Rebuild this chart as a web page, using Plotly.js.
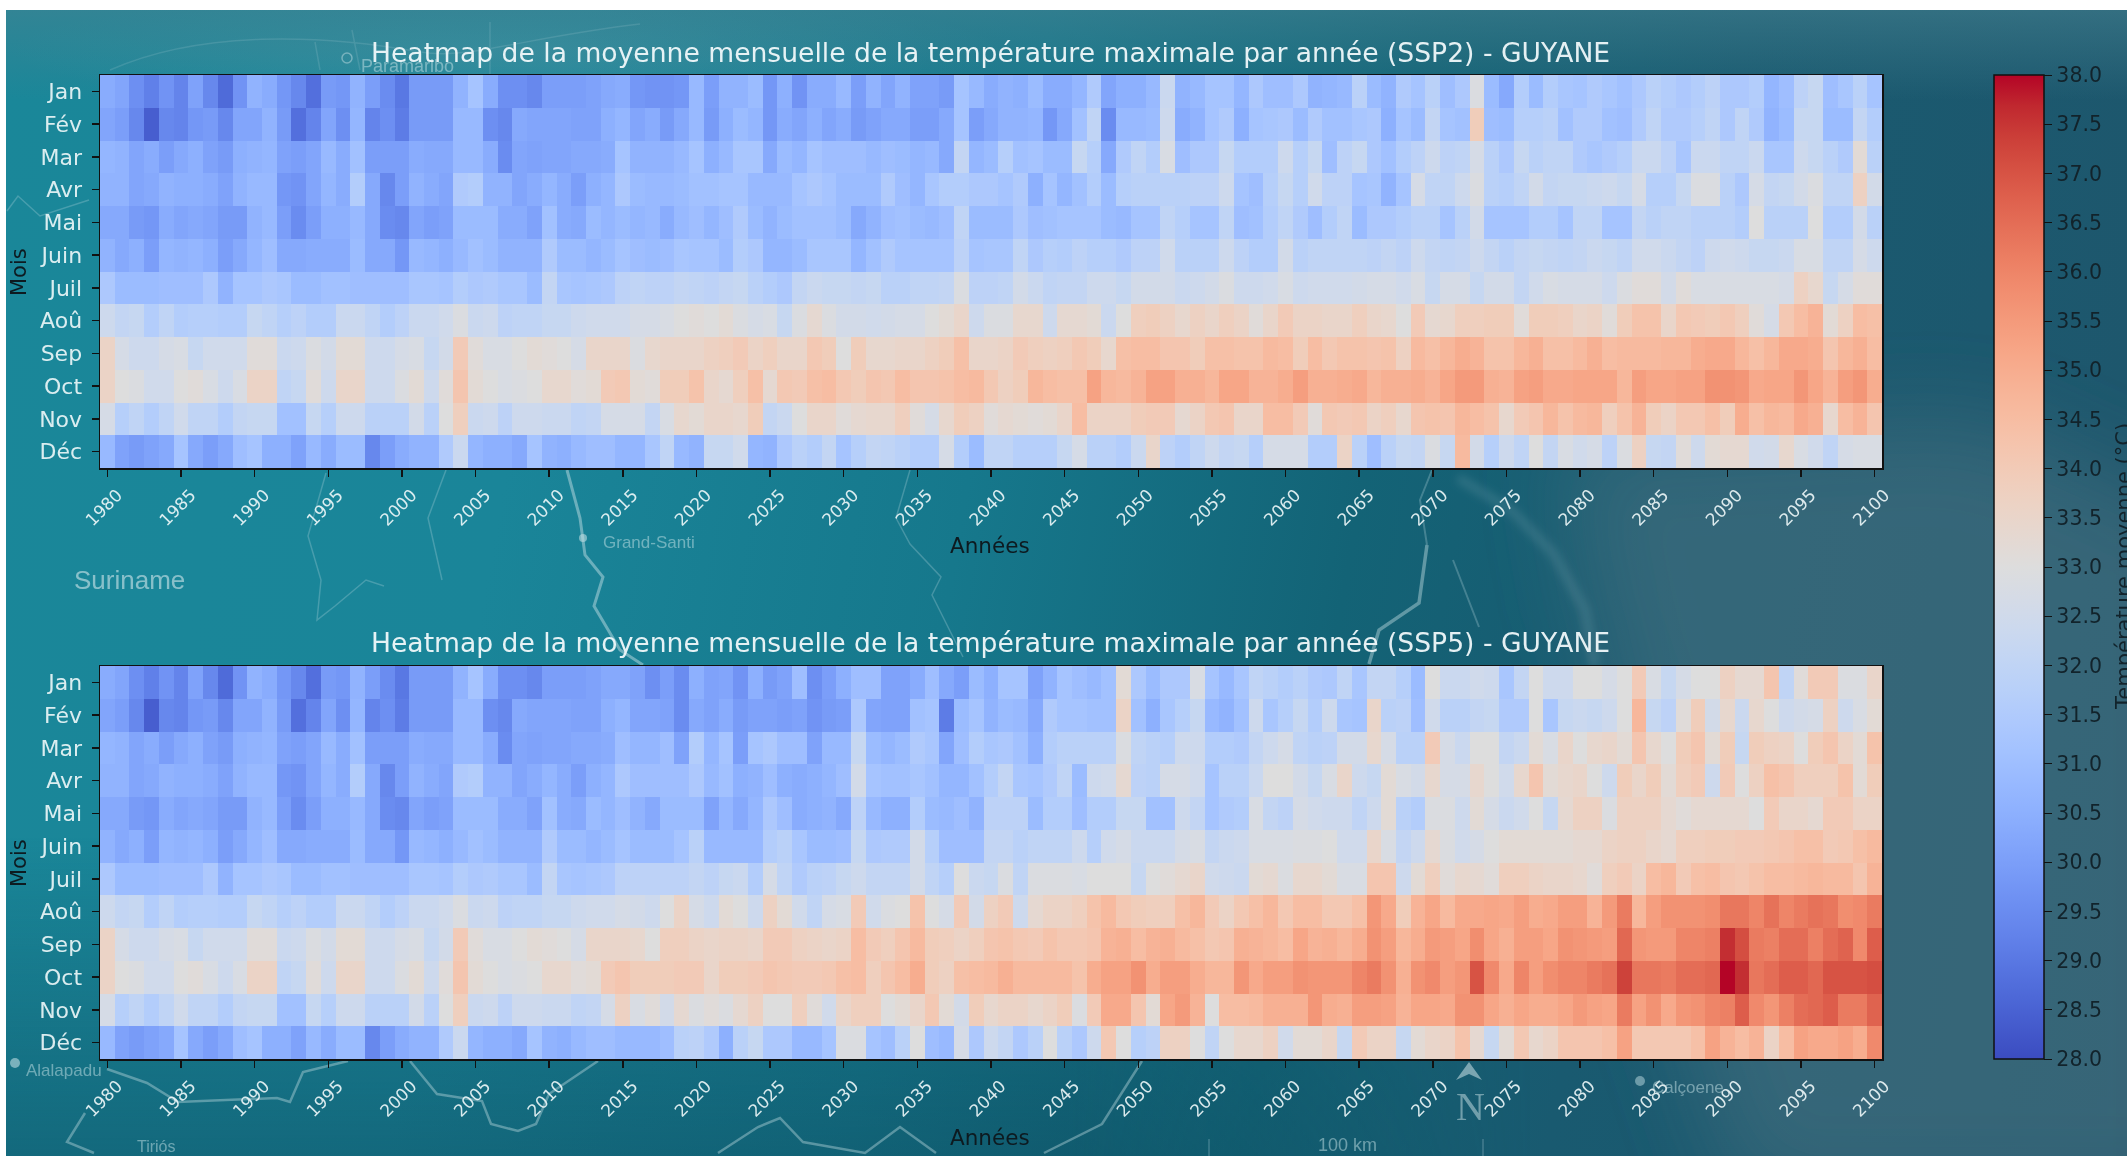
<!DOCTYPE html>
<html><head><meta charset="utf-8">
<script src="https://cdn.plot.ly/plotly-3.0.1.min.js"></script>
<style>
html,body{margin:0;padding:0;background:#fff;width:2127px;height:1156px;overflow:hidden}
#map{position:absolute;left:6px;top:10px;width:2121px;height:1146px;
background:
radial-gradient(ellipse 500px 60px at 500px 40px,rgba(150,190,195,.18),rgba(150,190,195,0) 100%),
linear-gradient(100deg,#1a8799 0%,#1a8599 25%,#16788c 45%,#136376 62%,#195a70 75%,#1f566c 100%);}
#mapTop{position:absolute;left:6px;top:10px;width:2121px;height:500px;background:linear-gradient(180deg,rgba(70,130,145,.55) 0%,rgba(70,130,145,0) 18%)}
#mapBot{position:absolute;left:6px;top:700px;width:2121px;height:456px;background:linear-gradient(0deg,rgba(12,70,90,.45) 0%,rgba(12,70,90,0) 70%);-webkit-mask-image:linear-gradient(90deg,#000 50%,transparent 72%);mask-image:linear-gradient(90deg,#000 50%,transparent 72%)}
#lines{position:absolute;left:6px;top:10px}
#plot{position:absolute;left:0;top:0;width:2127px;height:1156px;filter:blur(.45px)}
</style></head><body>
<div id="map"></div><div id="mapTop"></div><div id="mapBot"></div>
<svg id="lines" width="2121" height="1146" viewBox="6 10 2121 1146" fill="none" stroke="rgba(190,220,225,.28)" stroke-width="1.5">
<defs><filter id="soft" x="-30%" y="-30%" width="160%" height="160%"><feGaussianBlur stdDeviation="45"/></filter>
<filter id="soft2" x="-20%" y="-20%" width="140%" height="140%"><feGaussianBlur stdDeviation="4"/></filter></defs>
<path filter="url(#soft)" stroke="none" fill="rgba(82,118,132,.48)" d="M1560 440 L1590 610 L1610 667 L1640 900 L1740 1200 L2200 1200 L2200 520 L1980 420 Z"/>
<path filter="url(#soft2)" stroke="rgba(150,185,195,.2)" stroke-width="9" d="M1458 478 L1511 510 L1553 553 L1585 610 L1595 667"/>
<path stroke="rgba(190,220,225,.16)" d="M110 70 C200 30 320 34 420 52 C470 60 520 38 640 24 M320 70 L315 42 M360 70 L352 30 M490 74 L490 22"/>
<path stroke-width="3" stroke="rgba(190,220,225,.5)" d="M567 470 L580 518 L585 555 L603 577 L594 606 L620 650 L643 665"/>
<path d="M910 470 L896 518 L910 544 L941 577 L932 595 L963 657"/>
<path d="M7 211 L18 196 L40 216 L89 200"/>
<path d="M326 473 L308 536 L321 580 L317 620 L335 606 L366 580 L384 586 M446 470 L428 518 L442 580"/>
<path stroke-width="2.5" stroke="rgba(190,220,225,.42)" d="M107 1069 L147 1083 L178 1102 L277 1098 L290 1102 L303 1072 L348 1061 M410 1061 L437 1094 L482 1101 L491 1124 L518 1131 L536 1124 L549 1094 L598 1061 M85 1113 L67 1142 L94 1153 M718 1153 L758 1127 L780 1118 L803 1142 L865 1153 L900 1127 L936 1153 M1044 1153 L1102 1124 L1142 1061"/>
<path stroke-width="3.5" stroke="rgba(190,220,225,.45)" d="M1427 545 L1419 603 L1379 630 L1369 664"/>
<path stroke-width="2" d="M1427 545 L1420 500 L1432 470 M1453 560 L1479 627"/>
<path d="M1209 1139 L1209 1156 M1483 1139 L1483 1156"/>
<path fill="rgba(190,215,220,.6)" stroke="none" d="M1469 1062 L1482 1080 L1469 1074 L1456 1080 Z"/>
<circle cx="583" cy="538" r="4" fill="rgba(190,220,225,.6)" stroke="none"/>
<circle cx="15" cy="1063" r="5" fill="rgba(190,220,225,.6)" stroke="none"/>
<circle cx="1640" cy="1081" r="5" fill="rgba(190,220,225,.5)" stroke="none"/>
<circle cx="347" cy="58" r="5" stroke="rgba(190,220,225,.5)"/>
</svg>
<div id="plot"></div>
<script>
const months=['Jan','Fév','Mar','Avr','Mai','Juin','Juil','Aoû','Sep','Oct','Nov','Déc'];
const years=[];for(let y=1980;y<=2100;y++)years.push(y);

// Historical run, 1980-2014 (same in both scenarios)
const histJan=[30.4,30.2,29.6,29.2,29.7,29.3,30.1,29.4,28.7,29.7,30.6,30.4,29.8,29.4,28.8,29.9,29.8,30.6,30.0,29.5,29.0,29.9,29.9,29.9,30.6,31.2,30.4,29.6,29.6,29.4,30.0,30.0,30.0,30.1,30.3];
const histFev=[30.2,30.0,29.4,28.4,29.4,29.3,29.8,29.9,29.4,30.2,30.2,30.6,29.9,28.8,29.3,30.2,29.6,30.7,29.3,29.6,29.1,29.9,29.9,29.9,30.8,30.8,29.6,29.4,30.3,30.2,30.2,30.2,30.1,30.1,30.5];
const histMar=[30.7,30.6,30.2,30.4,30.0,30.3,30.5,30.1,29.9,30.5,30.6,30.7,30.1,30.0,30.2,30.8,30.4,31.1,30.0,30.0,30.0,30.4,30.3,30.3,30.8,30.8,30.4,29.5,30.2,30.1,30.2,30.2,30.3,30.3,30.4];
const histAvr=[30.6,30.6,30.2,30.3,30.6,30.5,30.5,30.4,30.1,30.6,30.8,30.8,29.8,29.7,30.2,30.7,30.4,31.6,30.3,29.4,30.0,30.6,30.4,30.2,31.5,31.6,30.6,30.6,30.2,30.4,30.7,30.4,30.0,30.5,30.7];
const histMai=[30.3,30.3,29.9,29.8,30.4,30.2,30.3,30.2,29.9,29.9,30.6,30.8,30.0,29.5,30.0,30.5,30.5,30.8,30.3,29.5,29.4,30.2,30.0,30.1,30.9,30.9,30.9,30.4,30.4,30.1,31.1,30.4,30.3,30.9,30.7];
const histJuin=[30.6,30.3,30.5,30.0,30.7,30.6,30.7,30.5,30.0,30.3,30.7,31.0,30.3,30.3,30.4,30.4,30.4,30.9,30.3,30.3,29.8,30.8,30.7,30.5,30.8,31.1,30.9,30.6,30.6,30.6,31.5,30.9,30.9,30.7,30.9];
const histJuil=[31.4,30.9,30.9,30.9,31.0,31.0,31.0,31.4,30.6,31.2,31.2,31.4,31.3,30.9,30.9,31.1,31.1,31.0,31.0,31.0,31.0,31.3,31.3,31.2,31.6,31.4,31.5,31.3,31.3,30.9,32.1,31.3,31.2,31.3,31.4];
const histAou=[32.4,32.1,32.2,31.6,32.0,31.6,31.7,31.7,31.6,31.6,32.2,32.0,31.7,31.9,31.6,31.6,32.3,32.3,32.0,31.6,31.9,32.3,32.3,32.5,32.9,32.3,32.4,31.9,32.0,32.0,32.2,32.2,32.4,32.5,32.5];
const histSep=[33.6,32.7,32.4,32.4,32.7,32.8,32.2,32.5,32.5,32.5,33.1,33.1,32.3,32.4,32.9,32.6,33.2,33.2,32.4,32.4,32.7,32.8,32.2,32.6,34.0,33.1,32.8,32.8,33.0,33.2,33.1,33.0,32.7,33.5,33.5];
const histOct=[33.6,33.0,32.9,32.5,32.5,33.0,33.1,32.8,32.4,32.8,33.6,33.6,32.0,32.2,33.1,32.4,33.5,33.5,32.4,32.4,32.9,33.2,32.4,33.1,34.2,33.2,33.0,32.8,32.9,33.0,33.4,33.4,33.1,33.2,34.0];
const histNov=[32.7,31.7,32.0,31.6,32.0,32.5,32.0,32.0,31.6,32.1,32.2,32.2,31.1,31.1,32.2,31.7,32.4,32.4,31.8,31.8,31.8,32.6,31.8,33.0,33.8,32.3,32.4,31.9,32.4,32.4,32.3,32.3,32.0,32.1,32.7];
const histDec=[30.8,30.1,29.9,30.1,30.3,31.2,30.3,30.0,30.3,31.0,31.2,30.5,30.5,30.1,30.8,30.4,30.9,30.9,29.4,30.0,30.4,30.6,30.6,31.5,32.3,30.7,30.5,30.5,30.3,31.2,30.6,30.5,30.8,31.0,31.0];

// SSP2, 2015-2100
const ssp2Jan=[30.4,29.8,29.7,29.7,29.8,30.8, 30.0,30.6,30.6,30.9,29.8,30.5,29.7,30.4,30.4,30.8,30.0,30.6,30.2,30.6,30.1,30.1,29.9,31.2,30.8,30.4,30.6,30.5,30.9,30.4,30.4,30.7,31.5,30.2,30.5,30.5,30.8,32.3,30.6,30.8,31.2,31.2,30.7,31.4,31.0,31.0,31.4,30.6,30.7,30.8,31.8,30.9,30.6, 31.5,31.2,31.8,31.0,31.4,32.9,30.9,30.3,31.6,30.9,31.6,31.3,31.2,31.5,31.3,31.1,31.4,31.8,31.6,31.4,31.6,31.9,31.4,31.4,31.6,30.7,31.0,31.9,32.2,31.0,31.3,31.8,31.2];
const ssp2Fev=[30.7,30.2,30.4,29.9,30.3,30.8, 29.9,30.5,30.9,30.7,29.8,30.4,30.2,30.5,30.2,30.4,29.9,30.1,30.3,30.3,30.0,30.0,30.3,31.2,30.0,30.3,30.6,30.6,30.7,29.8,30.3,31.1,32.0,29.5,30.8,30.8,30.9,32.4,30.4,30.6,31.2,31.5,30.5,31.2,31.3,31.4,30.9,31.5,31.1,31.1,31.3,31.4,30.5, 31.2,30.9,32.1,31.2,31.1,33.9,31.0,30.9,31.7,31.7,31.8,31.1,31.5,31.5,31.1,31.0,31.5,32.0,31.5,31.5,31.7,32.0,31.4,32.0,31.5,30.6,30.9,32.2,32.2,30.9,30.9,32.1,31.6];
const ssp2Mar=[31.2,30.6,30.6,30.6,30.8,31.2, 30.5,30.8,31.3,31.3,30.3,30.9,30.7,31.2,31.0,31.0,31.0,30.8,31.0,30.9,30.7,30.8,30.3,32.1,30.7,30.9,31.7,31.1,31.2,30.9,30.9,32.2,31.7,30.3,31.5,32.0,31.6,32.8,31.0,31.4,31.4,32.2,31.6,31.6,31.6,32.4,31.7,32.2,31.0,31.9,32.2,31.4,31.1, 31.6,31.9,32.4,31.9,32.0,32.7,31.8,31.4,32.2,31.8,32.0,32.0,31.5,31.3,31.5,31.7,32.3,32.3,31.9,31.3,32.3,32.3,32.0,32.0,32.3,31.3,31.3,32.4,32.2,31.8,31.5,33.2,31.8];
const ssp2Avr=[31.4,30.9,30.8,30.8,30.9,31.1, 31.1,31.2,31.2,30.8,30.8,30.8,31.2,31.4,31.2,30.9,30.9,30.9,31.5,31.0,30.7,31.3,31.6,31.6,31.4,31.4,31.2,31.5,30.5,31.2,30.7,31.1,31.6,30.9,31.7,31.8,31.8,31.8,31.8,31.9,31.9,32.4,31.2,31.0,31.7,32.2,31.7,32.5,31.9,31.9,31.2,31.3,30.6, 31.2,32.7,32.0,32.0,32.4,32.9,31.8,31.7,32.0,32.6,32.1,32.2,32.2,32.3,32.4,32.2,32.7,31.7,31.7,32.2,32.9,32.9,31.8,31.4,32.7,32.1,32.2,32.6,32.9,32.0,32.0,33.7,32.6];
const ssp2Mai=[30.9,30.7,30.8,30.4,30.8,31.0, 30.7,31.0,31.5,30.9,30.6,30.9,31.1,31.1,31.1,30.9,30.3,30.6,31.0,31.1,30.9,30.8,31.0,32.0,30.9,30.9,30.9,31.4,31.0,31.1,31.2,31.2,31.2,30.9,30.8,31.2,31.2,32.0,31.7,31.2,31.2,32.0,31.0,31.1,31.6,32.0,31.5,31.0,31.6,32.0,30.9,31.4,31.4, 31.6,31.8,31.8,31.2,31.8,32.6,31.2,31.2,31.2,31.6,31.6,31.2,32.0,32.0,31.2,31.2,32.1,31.8,32.0,32.0,31.8,31.8,31.8,31.6,33.0,31.8,31.8,31.8,33.0,31.6,31.6,32.6,31.8];
const ssp2Juin=[31.2,31.0,30.9,31.0,31.3,31.2, 31.2,30.9,31.6,31.4,30.7,30.7,30.9,31.3,31.3,31.3,30.7,31.1,31.5,31.2,31.2,31.2,31.2,31.9,31.2,31.3,31.3,32.0,31.4,31.7,31.6,31.9,31.7,31.7,31.5,31.9,31.9,32.5,31.8,31.8,31.8,32.4,31.9,31.6,31.6,32.6,31.8,32.0,32.0,32.0,32.0,31.9,32.1, 31.9,32.4,32.1,32.0,32.1,32.4,32.1,31.8,32.1,32.2,32.1,32.0,32.1,32.3,32.2,32.0,32.5,32.5,32.3,32.1,31.9,32.4,32.5,32.4,32.2,32.2,32.3,32.8,32.8,32.0,32.0,32.7,32.4];
const ssp2Juil=[31.9,32.0,31.9,31.9,32.1,32.0, 31.9,32.1,32.2,31.8,31.6,31.4,32.1,32.3,32.2,32.2,32.1,32.2,31.8,31.8,32.0,32.0,32.1,32.9,31.9,31.9,32.0,32.6,32.3,32.0,32.1,32.1,32.4,32.4,32.2,32.6,32.6,32.6,32.3,32.4,32.6,32.9,32.4,32.4,32.5,32.8,32.4,32.5,32.5,32.5,32.6,32.7,32.7, 32.5,32.8,32.2,32.7,32.7,32.2,32.6,32.6,32.1,32.5,32.8,32.7,32.7,32.7,32.4,32.9,33.1,33.1,32.6,33.1,32.8,32.8,32.8,32.8,32.8,32.8,32.7,33.7,33.4,32.2,32.7,33.1,33.1];
const ssp2Aou=[32.5,32.7,32.7,32.8,33.0,33.1, 33.0,33.2,32.9,32.7,32.8,32.2,32.9,33.3,32.9,32.6,32.6,32.5,32.6,32.7,32.7,33.0,33.2,33.5,32.4,32.9,32.9,33.4,33.4,32.4,33.3,33.3,33.2,32.3,33.0,33.8,33.9,33.7,33.4,33.7,33.5,33.8,33.6,33.1,33.5,34.0,33.6,33.6,33.5,33.5,33.8,33.5,33.4, 33.0,34.0,33.3,33.4,33.8,33.8,33.9,33.9,33.1,33.9,33.9,33.8,33.5,33.6,33.1,33.9,34.3,34.3,33.5,34.1,34.0,33.9,34.1,33.8,33.1,32.7,34.1,34.5,34.8,33.2,33.7,34.5,34.4];
const ssp2Sep=[33.5,32.9,33.4,33.5,33.5,33.5, 33.7,33.8,34.0,33.6,33.8,33.5,33.5,34.1,33.9,33.0,33.9,33.4,33.4,33.5,33.5,33.7,33.9,34.4,33.5,33.5,33.6,34.0,33.8,33.7,33.8,34.1,33.9,33.4,34.4,34.5,34.5,34.2,34.2,33.9,34.4,34.4,34.3,34.3,34.6,34.5,33.9,34.5,34.1,34.3,34.3,34.2,34.3, 33.7,34.6,34.4,34.7,35.0,34.8,34.3,34.3,34.7,34.9,34.4,34.4,34.6,34.9,34.5,34.6,34.6,34.6,34.7,34.7,35.0,35.1,35.1,34.7,34.4,34.7,35.1,35.1,35.0,34.2,34.7,34.9,34.5];
const ssp2Oct=[34.1,33.2,33.1,33.9,33.9,34.3, 33.5,33.3,33.8,34.4,33.3,34.1,34.0,34.4,34.5,34.1,33.9,34.2,34.1,34.5,34.2,34.2,34.3,34.5,34.6,34.1,33.7,33.9,34.7,34.5,34.4,34.4,35.3,34.7,34.6,34.8,35.3,35.3,34.9,34.9,34.7,35.2,35.2,34.8,34.8,35.0,35.4,34.9,34.9,35.0,35.1,34.7,34.9, 34.9,35.0,34.8,35.2,35.5,35.5,34.9,34.8,35.3,35.4,35.1,35.1,35.2,35.2,35.2,34.7,35.4,35.2,35.2,35.3,35.3,35.7,35.7,35.6,35.1,35.2,35.2,35.6,35.2,34.8,35.4,35.6,35.0];
const ssp2Nov=[32.7,32.7,32.1,32.8,33.4,33.2, 33.5,33.5,33.4,33.9,32.1,32.3,33.0,33.5,33.5,33.1,33.3,33.4,33.4,33.8,33.1,32.7,33.4,33.9,33.7,33.1,33.3,33.2,33.1,33.2,33.5,34.5,33.6,33.6,33.6,33.9,34.0,34.0,33.3,33.6,34.1,34.2,33.5,33.5,34.5,34.5,34.0,33.1,34.1,34.0,34.1,33.6,33.8, 33.4,34.2,34.3,34.2,34.7,34.5,34.3,33.4,34.0,34.2,34.7,34.3,34.6,34.7,33.8,34.3,34.8,33.9,33.6,34.1,34.1,34.4,33.9,35.0,34.4,34.7,34.6,35.1,34.9,33.4,34.5,34.8,34.2];
const ssp2Dec=[30.7,30.7,31.3,32.0,30.8,30.6, 32.2,32.2,32.5,30.7,30.6,31.4,31.8,31.6,32.1,31.2,31.7,32.1,32.0,31.8,31.6,31.6,32.7,31.6,30.9,32.0,32.0,31.7,31.7,31.7,32.2,32.7,31.8,31.8,31.6,32.3,33.5,31.9,31.6,32.0,32.4,32.1,32.2,31.7,32.7,32.7,32.7,31.6,31.6,33.6,31.8,31.0,31.8, 32.2,32.1,32.9,32.2,34.6,32.6,31.7,32.4,32.0,33.0,32.1,32.8,32.5,32.7,31.9,32.9,33.7,32.2,32.1,33.1,32.4,33.2,33.3,33.3,32.5,32.6,33.4,32.8,32.5,32.0,32.7,32.8,32.8];

// SSP5, 2015-2100
const ssp5Jan=[30.3,30.1,29.6,30.0,29.5,30.5, 30.1,30.2,29.7,30.5,29.9,30.1,31.0,29.6,30.0,30.5,31.0,31.0,30.1,30.1,30.4,31.0,30.3,30.0,30.9,30.5,31.2,31.2,30.1,30.6,31.2,31.0,30.8,31.1,33.2,31.4,30.9,31.4,31.4,32.8,31.2,30.8,31.3,32.0,31.8,31.6,31.8,31.5,31.4,32.0,31.3,32.1,32.1, 31.7,30.9,33.0,32.3,32.3,32.5,32.4,31.3,32.1,33.0,32.4,32.4,33.0,33.0,32.7,33.0,34.0,32.8,32.2,32.7,33.0,33.0,33.7,33.3,33.3,34.2,32.0,33.1,34.0,34.0,32.9,32.9,33.5];
const ssp5Fev=[30.7,30.2,30.2,30.1,29.5,30.3, 30.1,30.4,29.9,30.1,30.1,30.0,30.1,29.7,29.9,30.0,31.4,30.2,30.1,30.1,31.1,31.2,29.1,30.9,31.2,30.6,30.9,30.8,30.3,31.5,31.2,31.2,31.1,31.1,33.6,31.1,30.5,31.3,31.7,32.2,30.8,30.6,31.1,32.4,31.3,31.7,32.2,31.6,32.4,31.3,31.2,33.5,31.8, 31.9,31.0,32.5,31.8,31.8,32.1,32.2,31.5,31.5,33.0,31.3,32.2,32.3,32.2,32.4,33.0,34.7,32.2,31.9,33.1,33.9,32.6,33.4,32.3,33.4,33.0,32.4,32.6,32.7,33.7,32.4,32.8,33.2];
const ssp5Mar=[31.0,30.7,30.7,31.0,30.1,31.6, 30.7,31.2,30.0,31.2,31.4,31.0,31.0,30.1,30.8,30.8,32.2,30.9,30.7,30.9,31.5,31.3,30.2,31.0,31.6,31.3,31.4,31.1,30.5,31.6,31.8,31.8,31.8,31.8,32.9,32.0,31.8,31.7,32.4,32.4,31.6,31.6,31.5,32.1,32.4,32.7,32.0,31.8,31.9,32.6,32.6,33.4,32.7, 31.8,31.8,34.0,32.7,32.3,33.0,33.0,32.1,32.3,33.2,32.8,33.5,33.0,33.4,33.5,33.2,34.2,33.4,33.0,33.9,34.2,33.2,33.9,32.2,33.9,33.7,33.6,33.0,33.9,34.2,33.6,33.2,34.3];
const ssp5Avr=[31.4,31.0,31.0,31.0,31.0,31.4, 30.8,31.1,30.5,30.6,31.0,30.5,30.4,30.5,30.7,31.0,32.6,31.2,31.1,31.1,31.3,31.1,30.7,30.7,31.1,31.6,32.1,31.3,31.2,31.5,32.0,30.9,32.4,32.5,33.3,31.9,31.8,32.7,32.7,32.5,31.2,31.8,31.8,32.3,33.0,33.0,32.6,32.2,32.8,33.5,32.4,32.2,33.2, 32.8,32.6,33.4,32.7,32.7,33.4,33.0,32.5,33.4,34.2,33.2,33.4,33.5,33.0,32.4,33.9,33.5,33.9,33.2,33.8,34.0,32.4,34.0,33.0,33.7,34.4,34.2,33.8,33.8,33.8,34.3,33.2,33.9];
const ssp5Mai=[31.0,30.6,30.3,30.9,30.9,30.9, 30.1,30.7,30.3,30.7,31.4,31.0,30.4,30.5,30.6,30.3,31.9,30.8,30.5,30.5,31.6,30.9,30.8,31.0,30.6,31.9,31.9,31.9,30.9,31.6,31.6,31.0,31.6,31.6,32.2,32.2,31.1,31.1,32.4,32.1,31.2,31.5,31.6,32.8,32.1,31.9,32.7,32.5,32.4,32.4,32.0,32.4,33.2, 31.8,31.6,32.9,32.9,32.4,33.2,32.7,32.3,32.5,33.0,32.2,33.3,33.7,33.7,32.9,33.7,33.7,33.7,33.3,33.1,33.3,33.3,33.3,33.3,33.0,34.0,33.5,33.5,33.3,34.0,34.0,33.6,33.6];
const ssp5Juin=[31.2,30.9,30.9,30.9,31.2,31.8, 30.8,30.8,30.8,30.8,31.6,31.8,31.3,30.9,30.9,31.0,32.2,31.4,31.5,31.5,32.6,31.7,31.0,31.0,31.0,32.1,32.1,31.8,32.0,32.0,32.0,32.4,31.7,32.5,32.7,32.3,32.3,32.3,32.7,32.8,32.1,32.3,32.4,32.8,32.8,32.8,32.9,32.9,33.0,32.5,32.5,33.5,32.8, 32.1,32.4,33.3,32.9,32.5,32.7,33.0,33.2,33.2,33.2,33.2,33.2,33.3,33.3,33.6,33.7,33.7,33.5,33.3,33.8,33.8,33.9,33.9,34.0,34.0,34.1,34.2,34.4,34.4,34.0,34.1,34.4,34.6];
const ssp5Juil=[31.9,31.9,31.9,31.9,31.9,32.1, 31.9,32.2,32.3,31.6,32.7,32.0,31.5,31.8,31.9,32.2,32.4,32.1,32.1,32.1,32.6,32.0,31.7,33.0,32.3,32.2,32.9,32.0,32.9,32.9,32.9,32.8,33.0,33.0,33.0,32.2,33.0,33.1,33.3,33.5,32.5,32.4,32.3,33.2,33.3,32.9,33.4,33.4,33.2,32.8,32.8,34.2,34.2, 32.4,33.2,33.8,33.1,33.4,33.3,33.1,33.8,33.8,33.6,33.5,33.5,33.4,33.1,33.8,34.0,33.6,34.5,34.7,34.0,34.4,34.5,34.2,34.1,34.3,34.5,34.5,34.6,34.7,34.6,34.6,34.2,34.8];
const ssp5Aou=[32.7,32.6,32.4,33.0,33.6,32.7, 32.4,33.2,33.0,32.4,33.7,33.2,32.5,32.0,32.7,32.8,34.0,32.5,32.9,33.0,34.3,33.0,32.7,34.0,32.6,33.7,34.0,32.4,33.3,33.6,33.6,33.8,34.3,34.6,34.1,33.9,33.8,33.8,34.4,34.7,34.0,33.6,34.1,34.4,34.7,34.1,34.5,34.5,34.1,34.1,34.4,35.6,35.1, 33.9,34.8,35.2,34.6,35.1,35.1,35.2,35.1,35.4,35.0,35.1,35.4,35.4,34.8,35.5,36.2,34.7,35.4,35.7,35.7,35.7,35.8,36.3,36.3,36.0,36.4,36.0,36.2,36.4,36.3,35.8,35.9,36.2];
const ssp5Sep=[33.5,33.4,33.0,33.8,33.8,33.6, 33.5,33.6,33.6,33.5,34.0,34.0,33.7,33.6,33.5,33.6,34.5,34.0,33.8,34.2,34.6,33.9,33.8,33.6,33.8,34.2,34.3,34.1,34.0,34.3,34.1,34.1,34.2,34.8,34.9,34.5,34.8,34.9,34.6,34.4,34.1,34.2,34.9,34.8,34.7,34.5,35.2,34.8,34.9,34.7,35.0,35.7,35.4, 34.7,35.0,35.5,35.4,35.2,35.8,35.2,34.9,35.4,35.4,35.2,35.7,35.6,35.5,35.4,36.6,35.6,35.5,35.5,36.0,36.0,36.1,37.6,37.1,36.2,36.1,36.5,36.5,36.1,36.5,36.7,35.9,36.8];
const ssp5Oct=[34.2,33.9,33.9,33.9,34.0,34.0, 33.5,33.9,33.9,34.0,34.2,34.1,34.0,34.0,34.1,34.4,34.5,33.8,34.2,34.5,35.0,33.9,33.7,34.4,34.5,34.6,34.9,34.6,34.6,34.6,34.6,34.3,35.0,35.3,35.3,35.7,35.0,35.4,35.4,35.0,34.7,34.7,35.6,35.1,35.4,35.4,35.7,35.6,35.6,35.6,36.0,36.2,35.7, 34.9,35.7,35.9,35.4,35.6,37.0,35.9,35.1,36.0,35.4,35.8,36.0,36.0,36.2,36.4,37.3,36.3,36.3,36.2,36.5,36.5,36.6,38.0,37.6,36.3,36.5,36.8,36.8,36.6,37.0,37.0,37.0,37.1];
const ssp5Nov=[33.7,32.8,33.1,32.6,33.3,32.9, 33.1,32.9,33.3,33.7,33.0,33.0,33.8,33.1,32.5,33.5,33.8,33.8,33.0,33.2,33.5,34.1,33.2,32.6,33.9,33.4,33.6,33.6,33.4,33.6,33.9,32.9,34.0,35.1,35.1,34.2,33.2,35.2,35.5,34.8,33.0,34.5,34.5,34.6,34.9,34.9,34.9,35.6,35.0,34.9,35.4,35.4,35.3, 34.8,35.2,35.2,35.1,35.7,35.7,35.2,34.9,35.2,35.0,35.0,35.2,35.5,35.3,35.2,36.2,35.3,35.7,35.1,35.6,35.7,36.0,36.1,36.8,35.9,35.6,36.1,36.5,36.6,36.8,36.2,36.2,36.7];
const ssp5Dec=[30.8,30.8,30.8,31.0,31.8,31.9, 31.5,30.5,31.8,32.2,31.4,31.4,30.8,30.8,31.2,32.9,32.9,31.2,31.0,31.8,33.0,31.0,30.8,32.7,31.4,32.4,32.1,31.4,31.8,33.0,31.8,31.4,32.4,34.1,33.0,31.7,31.9,33.7,33.7,33.0,32.0,33.0,33.4,33.4,33.7,32.5,33.2,33.2,33.5,32.2,34.0,33.6,33.6, 32.2,33.2,33.5,33.6,34.3,33.3,32.2,33.2,34.1,33.4,33.6,34.2,34.2,34.2,34.4,35.3,34.1,34.1,34.1,34.1,34.4,35.3,34.8,34.5,34.8,33.6,34.5,35.3,35.1,35.1,35.3,35.0,35.9];

const historical=[histJan,histFev,histMar,histAvr,histMai,histJuin,histJuil,histAou,histSep,histOct,histNov,histDec];
const ssp2=[ssp2Jan,ssp2Fev,ssp2Mar,ssp2Avr,ssp2Mai,ssp2Juin,ssp2Juil,ssp2Aou,ssp2Sep,ssp2Oct,ssp2Nov,ssp2Dec];
const ssp5=[ssp5Jan,ssp5Fev,ssp5Mar,ssp5Avr,ssp5Mai,ssp5Juin,ssp5Juil,ssp5Aou,ssp5Sep,ssp5Oct,ssp5Nov,ssp5Dec];
const zSsp2=historical.map((h,i)=>h.concat(ssp2[i]));
const zSsp5=historical.map((h,i)=>h.concat(ssp5[i]));

const coolwarmRGB=['59,76,192','68,90,204','77,104,215','87,117,225','98,130,234','108,142,241','119,154,247','130,165,251','141,176,254','152,185,255','163,194,255','174,201,253','184,208,249','194,213,244','204,217,238','213,219,230','221,221,221','229,216,209','236,211,197','241,204,185','245,196,173','247,187,160','247,177,148','247,166,135','244,154,123','241,141,111','236,127,99','229,112,88','222,96,77','213,80,66','203,62,56','192,40,47','180,4,38'];
const coolwarm=coolwarmRGB.map((c,i)=>[i/32,'rgb('+c+')']);

const W=2127,H=1156;
const px=x=>x/W, py=y=>1-y/H;
const font='"DejaVu Sans"';
const titleCol='rgba(240,248,250,.95)', tickCol='rgba(240,248,250,.9)';
const titles=['Heatmap de la moyenne mensuelle de la température maximale par année (SSP2) - GUYANE','Heatmap de la moyenne mensuelle de la température maximale par année (SSP5) - GUYANE'];

function heat(z,xa,ya,scale){return {type:'heatmap',x:years,y:months,z:z,xaxis:xa,yaxis:ya,zmin:28,zmax:38,colorscale:coolwarm,showscale:scale,hoverinfo:'skip',
 colorbar:{x:px(1994),xanchor:'left',xpad:0,y:py(75),yanchor:'top',ypad:0,len:984,lenmode:'pixels',thickness:50,thicknessmode:'pixels',outlinecolor:'#111',outlinewidth:1.5,
  tick0:28,dtick:.5,tickformat:'.1f',ticks:'outside',ticklen:8,tickcolor:'#111',tickfont:{family:font,size:20.5,color:'#12232b'}}}}
const dom=[px(100),px(1882)];
function xax(){return {domain:dom,range:[1979.5,2100.5],tick0:1980,dtick:5,tickangle:-45,ticks:'outside',ticklen:7,tickcolor:'#111',tickwidth:1.5,ticklabelshift:10,ticklabelstandoff:2,
 showline:true,mirror:true,linecolor:'#111',linewidth:1.5,showgrid:false,zeroline:false,tickfont:{family:font,size:17,color:tickCol}}}
function yax(a,b){return {domain:[py(b),py(a)],type:'category',autorange:'reversed',ticks:'outside',ticklen:7,tickcolor:'#111',tickwidth:1.5,ticklabelstandoff:5,
 showline:true,mirror:true,linecolor:'#111',linewidth:1.5,showgrid:false,zeroline:false,tickfont:{family:font,size:22,color:tickCol}}}
function note(text,x,y,size,color,extra){return Object.assign({text:text,xref:'paper',yref:'paper',x:px(x),y:py(y),xanchor:'center',yanchor:'middle',showarrow:false,font:{family:font,size:size,color:color}},extra||{})}
const mapCol='rgba(200,228,232,.5)', mapFont='"Liberation Sans"';

const layout={width:W,height:H,margin:{l:0,r:0,t:0,b:0},paper_bgcolor:'rgba(0,0,0,0)',plot_bgcolor:'rgba(0,0,0,0)',showlegend:false,
 xaxis:Object.assign(xax(),{anchor:'y'}),yaxis:Object.assign(yax(75,468),{anchor:'x'}),
 xaxis2:Object.assign(xax(),{anchor:'y2'}),yaxis2:Object.assign(yax(666,1059),{anchor:'x2'}),
 annotations:[
  note(titles[0],990,52,26.6,titleCol),note(titles[1],990,642,26.6,titleCol),
  note('Années',990,545,21.5,'#0d1a20'),note('Années',990,1137,21.5,'#0d1a20'),
  note('Mois',19,272,21,'#0d1a20',{textangle:-90}),note('Mois',19,863,21,'#0d1a20',{textangle:-90}),
  note('Température moyenne (°C)',2124,567,21,'#12232b',{textangle:-90}),
  note('Paramaribo',407,66,18,mapCol,{font:{family:mapFont,size:18,color:mapCol}}),
  note('Grand-Santi',649,542,17,mapCol,{font:{family:mapFont,size:17,color:mapCol}}),
  note('Suriname',129,580,26,'rgba(205,228,232,.62)',{font:{family:mapFont,size:26,color:'rgba(205,228,232,.62)'}}),
  note('Alalapadu',64,1070,17,mapCol,{font:{family:mapFont,size:17,color:mapCol}}),
  note('Calçoene',1688,1087,17,mapCol,{font:{family:mapFont,size:17,color:mapCol}}),
  note('Tiriós',156,1146,16,mapCol,{font:{family:mapFont,size:16,color:mapCol}}),
  note('100 km',1347,1145,18,mapCol,{font:{family:mapFont,size:18,color:mapCol}}),
  note('N',1470,1106,40,'rgba(190,215,220,.55)',{font:{family:'"Liberation Serif"',size:40,color:'rgba(190,215,220,.55)'}})
 ]};
Plotly.newPlot('plot',[heat(zSsp2,'x','y',true),heat(zSsp5,'x2','y2',false)],layout,{displayModeBar:false,staticPlot:true});
</script></body></html>
